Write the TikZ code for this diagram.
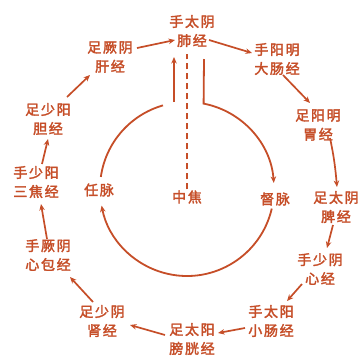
\documentclass[tikz,border=0pt]{standalone}
\usepackage{fontspec}
\newfontfamily\cjk[FakeBold=2.4,LetterSpace=12]{Noto Sans CJK SC}
\usetikzlibrary{arrows.meta}
\definecolor{ink}{RGB}{198,78,40}
\begin{document}
\begin{tikzpicture}[x=1pt,y=-1pt,
  lbl/.style={text=ink, font=\cjk\fontsize{14}{19}\selectfont, align=center, inner sep=1pt},
  con/.style={draw=ink, line width=1.7pt, -{Stealth[length=6.5pt,width=5.5pt]}},
  ring/.style={draw=ink, line width=1.8pt},
  dsh/.style={draw=ink, line width=1.7pt, dash pattern=on 6pt off 4pt}]
\useasboundingbox[fill=white] (0,0) rectangle (361,357);
% outer meridians
\node[lbl] (n1) at (192,31) {手太阴\\肺经};
\node[lbl] (n2) at (277,59) {手阳明\\大肠经};
\node[lbl] (n3) at (318,125) {足阳明\\胃经};
\node[lbl] (n4) at (336,207) {足太阴\\脾经};
\node[lbl] (n5) at (320,269) {手少阴\\心经};
\node[lbl] (n6) at (271,321) {手太阳\\小肠经};
\node[lbl] (n7) at (192,339) {足太阳\\膀胱经};
\node[lbl] (n8) at (102,321) {足少阴\\肾经};
\node[lbl] (n9) at (48,255) {手厥阴\\心包经};
\node[lbl] (n10) at (36,182) {手少阳\\三焦经};
\node[lbl] (n11) at (48,119) {足少阳\\胆经};
\node[lbl] (n12) at (110,57) {足厥阴\\肝经};
% inner labels
\node[lbl] (ren) at (99,190) {任脉};
\node[lbl] (zj) at (187,197) {中焦};
\node[lbl] (du) at (275,199) {督脉};
\coordinate (c) at (187,189);
\coordinate (rtop) at ([shift={(12,28)}]n1.center);
\coordinate (lbot) at ([shift={(-18,71)}]n1.center);
% outer cycle
\draw[con] ([shift={(27,-9)}]n12.center) -- ([shift={(-17,9)}]n1.center);
\draw[con] ([shift={(17,9)}]n1.center) -- ([shift={(-25,-6)}]n2.center);
\draw[con] ([shift={(6,16)}]n2.center) -- ([shift={(-8,-22)}]n3.center);
\draw[con] ([shift={(12,13)}]n3.center) to[out=-78,in=95] ([shift={(1,-20)}]n4.center);
\draw[con] ([shift={(-3,18)}]n4.center) -- ([shift={(7,-21)}]n5.center);
\draw[con] ([shift={(-18,15)}]n5.center) -- ([shift={(16,-20)}]n6.center);
\draw[con] ([shift={(-26,7)}]n6.center) -- ([shift={(26,-6)}]n7.center);
\draw[con] ([shift={(-27,-4)}]n7.center) -- ([shift={(28,4)}]n8.center);
\draw[con] ([shift={(-9,-19)}]n8.center) -- ([shift={(22,22)}]n9.center);
\draw[con] ([shift={(-1,-16)}]n9.center) -- ([shift={(5,22)}]n10.center);
\draw[con] ([shift={(6,-18)}]n10.center) -- ([shift={(0,20)}]n11.center);
\draw[con] ([shift={(19,-22)}]n11.center) -- ([shift={(-20,18)}]n12.center);
% inner circulation
\draw[ring] ([shift={(106:87pt)}]c) arc[start angle=106, end angle=172, radius=87pt];
\draw[ring, -{Stealth[length=6.5pt,width=5.5pt]}] ([shift={(-13:87pt)}]c) arc[start angle=-13, end angle=-169, radius=87pt];
\draw[ring, -{Stealth[length=6.5pt,width=5.5pt]}] (rtop) -- ([shift={(79:87pt)}]c) arc[start angle=79, end angle=4, radius=87pt];
\draw[con] (lbot) -- ([shift={(-18,26)}]n1.center);
\draw[dsh] (zj.north) -- ([shift={(-5,23)}]n1.center);
\end{tikzpicture}
\end{document}
